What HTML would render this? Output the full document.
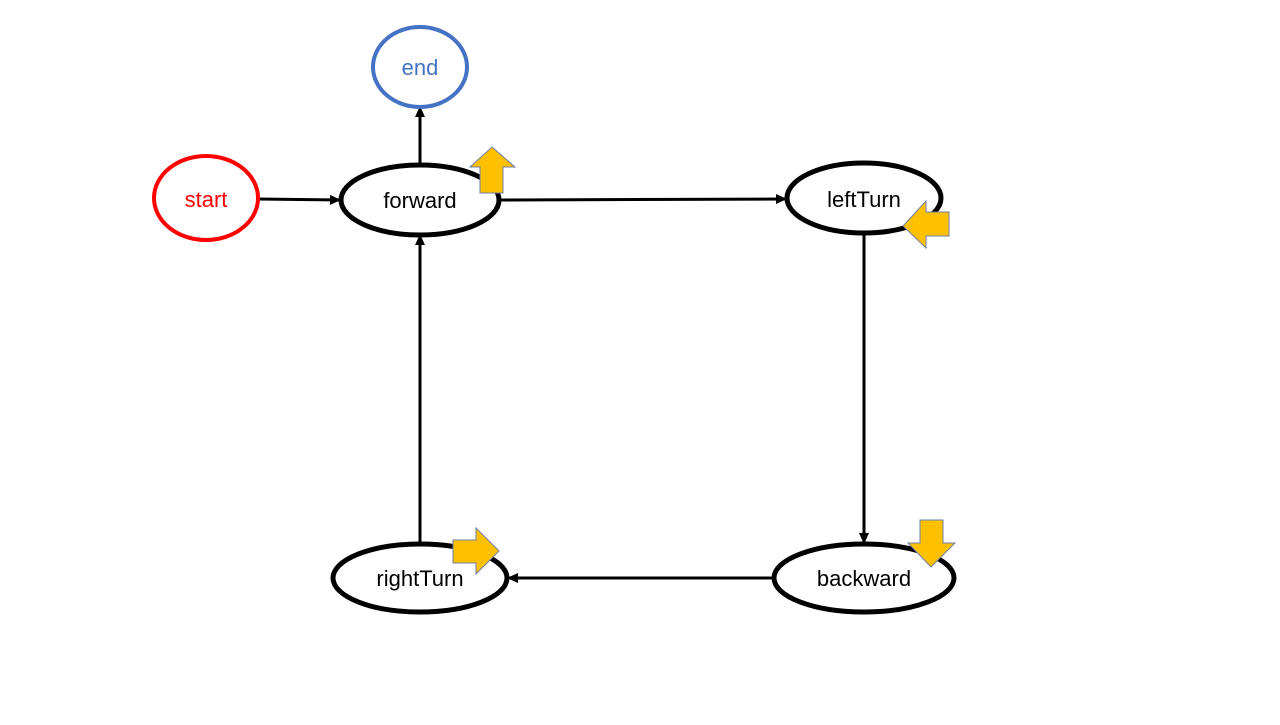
<!DOCTYPE html>
<html><head><style>body{margin:0;background:#fff}</style></head><body>
<svg width="1280" height="720" xmlns="http://www.w3.org/2000/svg" font-family="Liberation Sans, sans-serif">
<defs><marker id="a" markerWidth="11" markerHeight="10" refX="10" refY="5" orient="auto" markerUnits="userSpaceOnUse"><path d="M0,0 L11,5 L0,10z" fill="#000"/></marker></defs>
<g stroke="#000" stroke-width="3" fill="none" marker-end="url(#a)">
<line x1="258" y1="199" x2="340" y2="200"/>
<line x1="420" y1="165" x2="420" y2="107"/>
<line x1="500" y1="200" x2="786" y2="199"/>
<line x1="864" y1="234" x2="864" y2="543"/>
<line x1="773" y1="578" x2="508" y2="578"/>
<line x1="420" y1="543" x2="420" y2="235"/>
</g>
<ellipse cx="206" cy="198" rx="52" ry="42" fill="#fff" stroke="#f00" stroke-width="4"/>
<ellipse cx="420" cy="67" rx="47" ry="40" fill="#fff" stroke="#4472C4" stroke-width="4"/>
<g fill="#fff" stroke="#000" stroke-width="5">
<ellipse cx="420" cy="200" rx="79" ry="35"/>
<ellipse cx="864" cy="198" rx="77" ry="35"/>
<ellipse cx="864" cy="578" rx="90" ry="34"/>
<ellipse cx="420" cy="578" rx="87" ry="34"/>
</g>
<g font-size="22" text-anchor="middle">
<text x="206" y="207" fill="#f00">start</text>
<text x="420" y="75" fill="#4472C4">end</text>
<text x="420" y="208">forward</text>
<text x="864" y="207">leftTurn</text>
<text x="864" y="586">backward</text>
<text x="420" y="586">rightTurn</text>
</g>
<g fill="#FFC000" stroke="#6d7fa6" stroke-width="1">
<path d="M492,147 L515,167 L503,167 L503,193 L480,193 L480,167 L470,167z"/>
<path d="M903,226 L926,201 L926,212 L949,212 L949,236 L926,236 L926,248z"/>
<path d="M931,567 L908,543 L920,543 L920,520 L943,520 L943,543 L955,543z"/>
<path d="M499,551 L476,528 L476,540 L453,540 L453,563 L476,563 L476,574z"/>
</g>
</svg>
</body></html>
